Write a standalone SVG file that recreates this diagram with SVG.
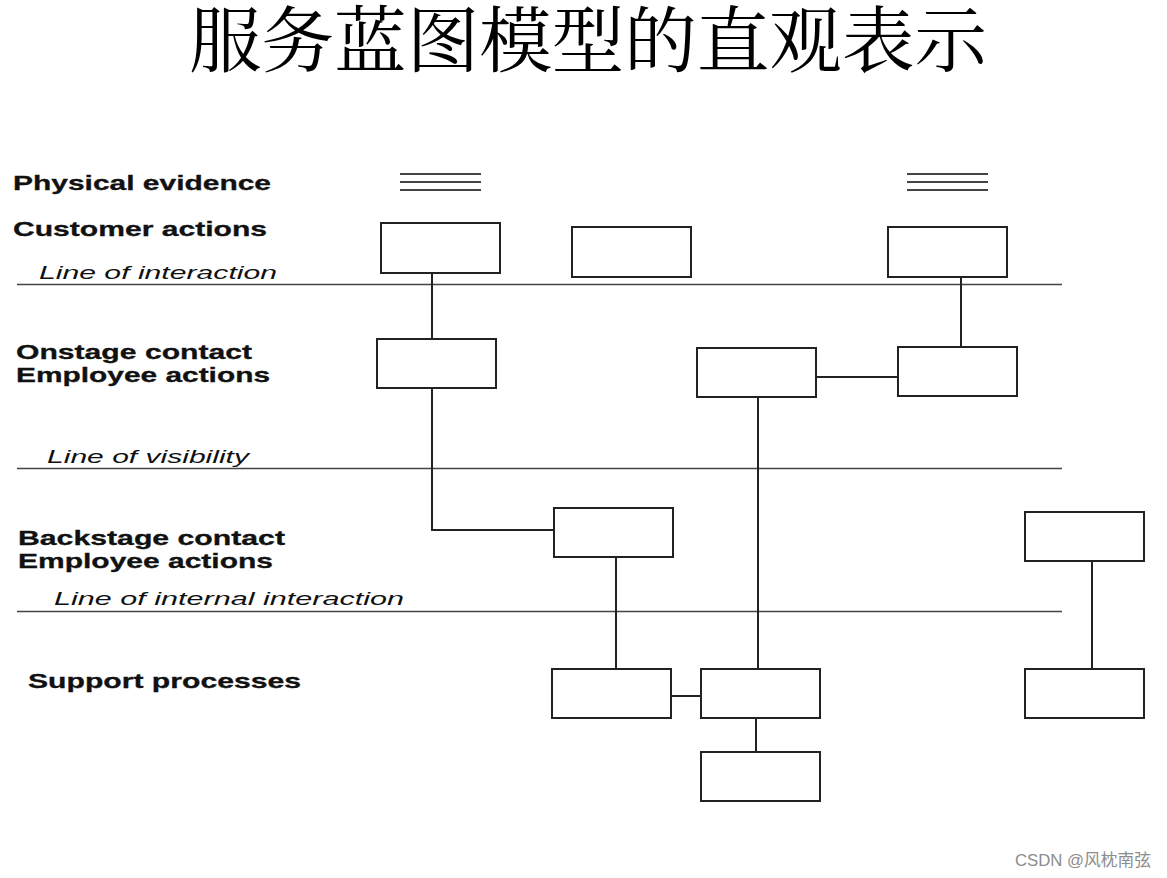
<svg xmlns="http://www.w3.org/2000/svg" width="1167" height="878" viewBox="0 0 1167 878">
<style>
.title{font-family:"Noto Serif CJK SC","Noto Sans CJK SC",serif;font-size:72px;fill:#000}
.lbl{font-family:"Liberation Sans",Arial,sans-serif;font-weight:bold;font-size:20.5px;fill:#111;stroke:#111;stroke-width:0.3}
.ln{font-family:"Liberation Sans",Arial,sans-serif;font-style:italic;font-size:17.5px;fill:#111}
.box{fill:#fff;stroke:#222;stroke-width:2}
.div{stroke:#444;stroke-width:1.6}
.con{stroke:#222;stroke-width:2;fill:none}
.pe{stroke:#444;stroke-width:2}
.wm{font-family:"Liberation Sans","Noto Sans CJK SC",sans-serif;font-size:16.5px;fill:#8c8c8c}
</style>
<rect width="1167" height="878" fill="#fff"/>
<text class="title" x="189" y="66" textLength="798" lengthAdjust="spacingAndGlyphs">服务蓝图模型的直观表示</text>

<g id="labels">
<text class="lbl" x="13" y="190" textLength="258" lengthAdjust="spacingAndGlyphs">Physical evidence</text>
<text class="lbl" x="13" y="236" textLength="254" lengthAdjust="spacingAndGlyphs">Customer actions</text>
<text class="ln" x="39" y="279" textLength="238" lengthAdjust="spacingAndGlyphs">Line of interaction</text>
<text class="lbl" x="16" y="359" textLength="236" lengthAdjust="spacingAndGlyphs">Onstage contact</text>
<text class="lbl" x="16" y="382" textLength="254" lengthAdjust="spacingAndGlyphs">Employee actions</text>
<text class="ln" x="47" y="463" textLength="202" lengthAdjust="spacingAndGlyphs">Line of visibility</text>
<text class="lbl" x="18" y="545" textLength="267" lengthAdjust="spacingAndGlyphs">Backstage contact</text>
<text class="lbl" x="18" y="568" textLength="255" lengthAdjust="spacingAndGlyphs">Employee actions</text>
<text class="ln" x="54" y="605" textLength="350" lengthAdjust="spacingAndGlyphs">Line of internal interaction</text>
<text class="lbl" x="28" y="688" textLength="273" lengthAdjust="spacingAndGlyphs">Support processes</text>
</g>

<g id="dividers">
<line class="div" x1="17" y1="284.5" x2="1062" y2="284.5"/>
<line class="div" x1="17" y1="468.5" x2="1062" y2="468.5"/>
<line class="div" x1="17" y1="611.5" x2="1062" y2="611.5"/>
</g>

<g id="evidence1">
<line class="pe" x1="400" y1="174" x2="481" y2="174"/>
<line class="pe" x1="400" y1="182" x2="481" y2="182"/>
<line class="pe" x1="400" y1="190" x2="481" y2="190"/>
</g>
<g id="evidence2">
<line class="pe" x1="907" y1="174" x2="988" y2="174"/>
<line class="pe" x1="907" y1="182" x2="988" y2="182"/>
<line class="pe" x1="907" y1="190" x2="988" y2="190"/>
</g>

<g id="connectors">
<path class="con" d="M432 273 V339"/>
<path class="con" d="M432 388 V530 H554"/>
<path class="con" d="M961 276 V347"/>
<path class="con" d="M817 377 H898"/>
<path class="con" d="M758 397 V669"/>
<path class="con" d="M616 557 V669"/>
<path class="con" d="M671 696 H701"/>
<path class="con" d="M756 718 V752"/>
<path class="con" d="M1092 561 V669"/>
</g>

<g id="customer1"><rect class="box" x="381" y="223" width="119" height="50"/></g>
<g id="customer2"><rect class="box" x="572" y="227" width="119" height="50"/></g>
<g id="customer3"><rect class="box" x="888" y="227" width="119" height="50"/></g>
<g id="onstage1"><rect class="box" x="377" y="339" width="119" height="49"/></g>
<g id="onstage2"><rect class="box" x="697" y="348" width="119" height="49"/></g>
<g id="onstage3"><rect class="box" x="898" y="347" width="119" height="49"/></g>
<g id="backstage1"><rect class="box" x="554" y="508" width="119" height="49"/></g>
<g id="backstage2"><rect class="box" x="1025" y="512" width="119" height="49"/></g>
<g id="support1"><rect class="box" x="552" y="669" width="119" height="49"/></g>
<g id="support2"><rect class="box" x="701" y="669" width="119" height="49"/></g>
<g id="support3"><rect class="box" x="1025" y="669" width="119" height="49"/></g>
<g id="support4"><rect class="box" x="701" y="752" width="119" height="49"/></g>

<text class="wm" x="1015" y="866" textLength="136" lengthAdjust="spacingAndGlyphs">CSDN @风枕南弦</text>
</svg>
